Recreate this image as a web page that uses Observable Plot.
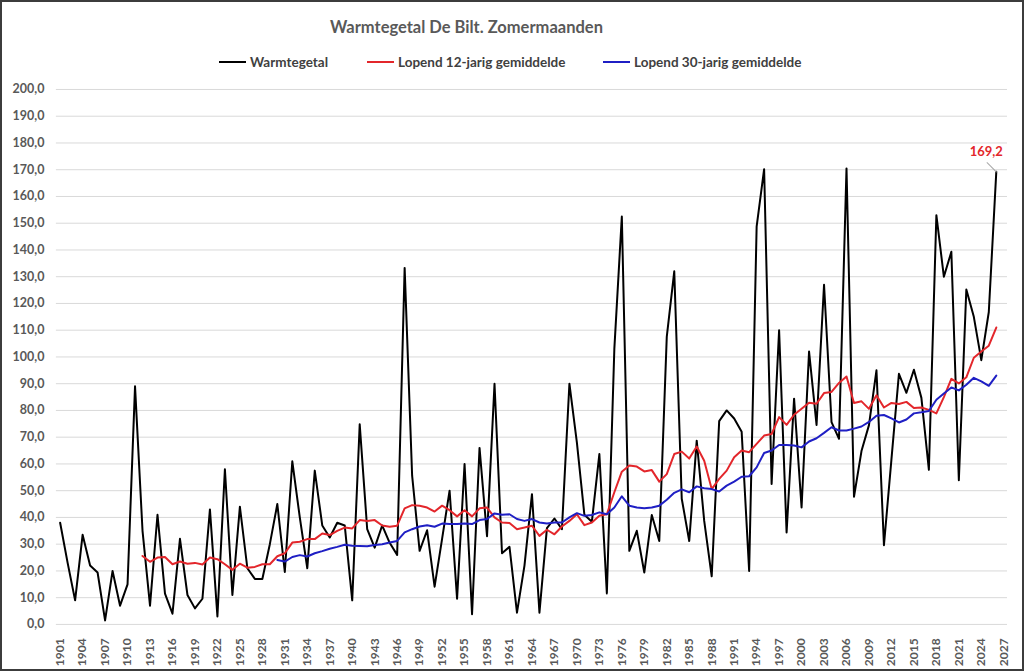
<!DOCTYPE html>
<html>
<head>
<meta charset="utf-8">
<script src="https://cdn.jsdelivr.net/npm/d3@7"></script>
<script src="https://cdn.jsdelivr.net/npm/@observablehq/plot@0.6"></script>
<style>
  html, body { margin: 0; padding: 0; background: #fff; }
  #frame { position: relative; width: 1024px; height: 671px; box-sizing: border-box;
           border: 2px solid #3c3c3c; overflow: hidden; font-family: Lato, "Open Sans", sans-serif; }
  #title { position: absolute; left: 328px; width: 266px; top: 15px; text-align: center;
           font-size: 16.5px; font-weight: 700; color: #595959; white-space: nowrap; }
  .leg { position: absolute; top: 52px; height: 16px; display: flex; align-items: center;
         font-size: 13.5px; font-weight: 700; color: #404040; white-space: nowrap; }
  .leg i { display: inline-block; width: 27px; height: 2px; margin-right: 4px; }
  #chart { position: absolute; left: -2px; top: 73px; }
</style>
</head>
<body>
<div id="frame">
  <div id="title">Warmtegetal De Bilt. Zomermaanden</div>
  <div class="leg" style="left:217px"><i style="background:#000"></i>Warmtegetal</div>
  <div class="leg" style="left:365px"><i style="background:#e3262b"></i>Lopend 12-jarig gemiddelde</div>
  <div class="leg" style="left:601px"><i style="background:#1f1fc4"></i>Lopend 30-jarig gemiddelde</div>
  <div id="chart"></div>
</div>
<script>
// Years 1901..2026
const firstYear = 1901;
const warmtegetal = [
  38, 23, 9, 33.5, 22, 19.4, 1.5, 20, 7, 15,            // 1901-1910
  89, 35, 7, 41, 11.5, 4, 32, 11, 6, 9.6,                // 1911-1920
  43, 3, 58, 11, 44, 21, 17, 17, 30, 45,                 // 1921-1930
  19.6, 61, 40, 21, 57.5, 37, 32.5, 38, 37, 9,           // 1931-1940
  74.8, 35.6, 28.7, 37, 30.5, 26, 133.3, 55.6, 27.5, 35.2, // 1941-1950
  14.1, 32, 50, 9.6, 60, 3.8, 66, 33, 90, 26.6,          // 1951-1960
  29, 4.4, 22, 48.7, 4.4, 36, 39.6, 35.6, 90, 68,        // 1961-1970
  41, 38.4, 63.7, 11.6, 103, 152.5, 27.5, 35, 19.4, 40.9, // 1971-1980
  31.2, 107.5, 132, 47, 31.2, 68.7, 38.7, 18, 76, 80,    // 1981-1990
  77, 72, 20, 148.7, 170.2, 52.5, 110, 34.4, 84.4, 43.7, // 1991-2000
  102, 74.6, 127, 75.6, 69.4, 170.5, 47.7, 64.8, 74.5, 95, // 2001-2010
  29.6, 61.7, 93.7, 86.6, 95.2, 84.7, 57.8, 153, 130, 139.3, // 2011-2020
  53.9, 125.2, 115, 98.8, 116.8, 169.2                   // 2021-2026
];

// Running 12-year mean, 1912..2026
const firstYear12 = 1912;
const lopend12 = [
  25.6, 23.4, 25, 25.2, 22.5, 23.5, 22.7, 23, 22.4,      // 1912-1920
  25, 24.4, 22.5, 20.4, 22.7, 21.2, 21.5, 22.5, 22.5, 25.5, // 1921-1930
  26.6, 30.6, 30.9, 31.9, 31.9, 34, 33.4, 35, 36.2, 35.9, // 1931-1940
  39, 38.7, 39, 37, 36.5, 36.9, 43.4, 44.6, 44.4, 43.7,  // 1941-1950
  42.2, 44.4, 42.7, 40.4, 42.7, 40.4, 43.4, 43.7, 40, 38.1, // 1951-1960
  37.9, 35.6, 36.2, 36.9, 33.1, 35.4, 33.7, 36.6, 38.7, 41.2, // 1961-1970
  37.1, 38.1, 40.6, 41.2, 49.4, 57.1, 59.4, 59, 57.2, 57.7, // 1971-1980
  53.4, 56.2, 63.7, 64.6, 62, 66.5, 61.2, 50.6, 54.4, 57.5, // 1981-1990
  62.5, 65, 64.4, 67.5, 70.6, 71.2, 77.5, 74.6, 78.4, 80.6, // 1991-2000
  82.9, 82.5, 86.5, 86.9, 90.3, 92.7, 82.8, 83.4, 80.6, 85.7, // 2001-2010
  81.1, 82.8, 82.4, 83.2, 80.9, 81.1, 80.2, 78.9, 85, 91.8, // 2011-2020
  90.1, 92.4, 99.7, 102, 104.2, 111                      // 2021-2026
];

// Running 30-year mean, 1930..2026
const firstYear30 = 1930;
const lopend30 = [
  24.1,                                                  // 1930
  23.5, 25.2, 25.9, 25.4, 26.6, 27.4, 28.3, 29, 29.8, 29.4, // 1931-1940
  29.3, 29.2, 29.7, 30, 30.6, 31.2, 34.4, 35.6, 36.6, 37.1, // 1941-1950
  36.5, 37.7, 37.5, 37.5, 37.7, 37.5, 39, 39.4, 41.5, 41, // 1951-1960
  41.2, 39.4, 38.7, 39.4, 38.1, 37.7, 38.1, 38.1, 40, 41.6, // 1961-1970
  40.6, 40.9, 41.9, 41.2, 43.7, 47.9, 44.4, 43.7, 43.4, 43.7, // 1971-1980
  44.4, 46.6, 49.2, 50.5, 49.4, 51.6, 50.9, 50.6, 49.7, 51.9, // 1981-1990
  53.4, 55.2, 55.4, 58.7, 64.1, 65, 67.1, 67.1, 66.9, 66.2, // 1991-2000
  68.4, 69.6, 71.6, 73.7, 72.5, 72.5, 73.2, 74, 75.7, 78, // 2001-2010
  78.3, 77, 75.5, 76.6, 78.9, 79.3, 79.8, 84, 86.3, 88.6, // 2011-2020
  87.5, 89.6, 92.2, 90.9, 89.2, 93                       // 2021-2026
];

const xTickYears = d3.range(1901, 2028, 3);   // 1901, 1904, ..., 2027
const yTicks = d3.range(0, 201, 10);
const lastLabel = "169,2";

const toRows = (start, arr) => arr.map((v, i) => ({year: start + i, value: v}));
const warmRows = toRows(firstYear, warmtegetal);
const rows12 = toRows(firstYear12, lopend12);
const rows30 = toRows(firstYear30, lopend30);
const lastRow = [warmRows[warmRows.length - 1]];

const leader = {draw(ctx, l) { ctx.moveTo(0, 0); ctx.lineTo(0, -l); }};

const chart = Plot.plot({
  width: 1024,
  height: 596,
  marginTop: 14,
  marginBottom: 46,
  marginLeft: 56,
  marginRight: 15,
  style: {fontFamily: "Lato, 'Open Sans', sans-serif", fontSize: "12px", fontWeight: 700, color: "#595959", background: "transparent", overflow: "visible"},
  x: {type: "linear", domain: [1900.5, 2027.5]},
  y: {domain: [0, 200]},
  marks: [
    Plot.gridY(yTicks, {stroke: "#d9d9d9", strokeOpacity: 1, strokeWidth: 1}),
    Plot.axisY(yTicks, {tickSize: 0, tickPadding: 12, label: null, fontSize: 12.5,
      tickFormat: d => d.toFixed(1).replace(".", ",")}),
    Plot.axisX(xTickYears, {tickSize: 0, tickPadding: 14, tickRotate: -90, label: null, fontSize: 12,
      tickFormat: d => String(d)}),
    Plot.line(warmRows, {x: "year", y: "value", stroke: "#000000", strokeWidth: 2}),
    Plot.line(rows12, {x: "year", y: "value", stroke: "#e3262b", strokeWidth: 2}),
    Plot.line(rows30, {x: "year", y: "value", stroke: "#1f1fc4", strokeWidth: 2}),
    Plot.vector(lastRow, {x: "year", y: "value", length: 13, rotate: -45, anchor: "start",
      shape: leader, stroke: "#a6a6a6", strokeWidth: 1}),
    Plot.text(lastRow, {x: "year", y: "value", text: () => lastLabel, dx: -10, dy: -20,
      fill: "#e3262b", fontSize: 13, fontWeight: 700})
  ]
});
document.getElementById("chart").appendChild(chart);
</script>
</body>
</html>
